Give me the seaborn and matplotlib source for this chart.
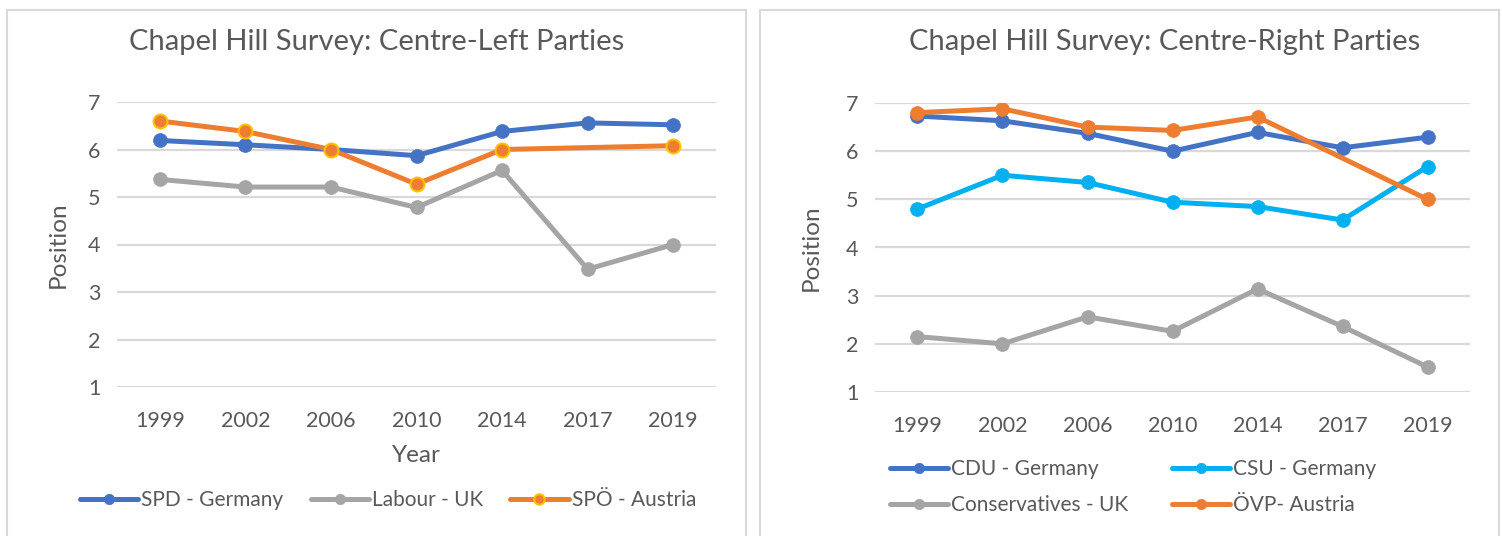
import numpy as np
import pandas as pd
import matplotlib
matplotlib.use("Agg")
import matplotlib.pyplot as plt
from matplotlib.patches import Rectangle
import seaborn as sns

years = ["1999", "2002", "2006", "2010", "2014", "2017", "2019"]

# centre-left
spd_germany = [6.19, 6.10, 6.00, 5.87, 6.38, 6.56, 6.52]
labour_uk = [5.37, 5.21, 5.21, 4.78, 5.56, 3.48, 4.00]
spo_austria = [6.60, 6.38, 6.00, 5.27, 6.00, np.nan, 6.08]

# centre-right
cdu_germany = [6.73, 6.63, 6.37, 6.00, 6.39, 6.07, 6.29]
csu_germany = [4.80, 5.50, 5.35, 4.94, 4.85, 4.57, 5.68]
conservatives_uk = [2.15, 2.00, 2.56, 2.26, 3.14, 2.36, 1.52]
ovp_austria = [6.80, 6.88, 6.50, 6.43, 6.71, np.nan, 5.00]

BLUE = "#4472C4"
GRAY = "#A5A5A5"
ORANGE = "#ED7D31"
LIGHTBLUE = "#00B0F0"
GOLD = "#FFC000"
TEXT = "#595959"
GRID = "#D9D9D9"

sns.set_theme(style="white")
plt.rcParams["font.family"] = ["Lato", "DejaVu Sans"]

W, H = 1502, 536
fig = plt.figure(figsize=(W / 100, H / 100), dpi=100)


def fx(px):
    return px / W


def fy(py):
    return 1 - py / H


# panel frames
for x0, x1 in [(7, 746), (760, 1499)]:
    fig.patches.append(Rectangle((fx(x0), fy(545)), fx(x1 - x0), fy(10) - fy(545),
                                 transform=fig.transFigure, fill=False,
                                 edgecolor=GRID, linewidth=1.5))


def draw_panel(ax, series, xlabel, ylab_x):
    xi = np.arange(len(years))
    for name, vals, color, edge in series:
        df = pd.DataFrame({"x": xi, "y": vals}).dropna()
        sns.lineplot(data=df, x="x", y="y", ax=ax, color=color, linewidth=3.6,
                     marker="o", markersize=10, markeredgecolor=edge,
                     markeredgewidth=1.5 if edge != color else 0.5, label=name)
    ax.set_xlim(-0.5, len(years) - 0.5)
    ax.set_ylim(1, 7)
    ax.set_yticks(range(1, 8))
    ax.set_xticks(xi)
    ax.set_xticklabels(years)
    ax.grid(axis="y", color=GRID, linewidth=1.6)
    ax.set_axisbelow(True)
    for s in ax.spines.values():
        s.set_visible(False)
    ax.tick_params(axis="both", length=0, labelsize=15.5, labelcolor=TEXT)
    ax.tick_params(axis="x", pad=17)
    ax.tick_params(axis="y", pad=12)
    ax.set_ylabel("Position", fontsize=17.5, color=TEXT)
    ax.yaxis.set_label_coords(ylab_x, 0.5)
    ax.set_xlabel(xlabel, fontsize=17.5, color=TEXT)
    ax.xaxis.set_label_coords(0.5, -0.205)
    ax.get_legend().remove()


ax1 = fig.add_axes([fx(117), fy(387), fx(716 - 117), fy(102) - fy(387)])
draw_panel(ax1, [("SPD - Germany", spd_germany, BLUE, BLUE),
                 ("Labour - UK", labour_uk, GRAY, GRAY),
                 ("SPÖ - Austria", spo_austria, ORANGE, GOLD)],
           "Year", -0.08)

ax2 = fig.add_axes([fx(875), fy(392), fx(1470 - 875), fy(103) - fy(392)])
draw_panel(ax2, [("CDU - Germany", cdu_germany, BLUE, BLUE),
                 ("CSU - Germany", csu_germany, LIGHTBLUE, LIGHTBLUE),
                 ("Conservatives - UK", conservatives_uk, GRAY, GRAY),
                 ("ÖVP- Austria", ovp_austria, ORANGE, ORANGE)],
           "", -0.09)

fig.text(fx(377), fy(42), "Chapel Hill Survey: Centre-Left Parties",
         fontsize=21, color=TEXT, ha="center", va="center")
fig.text(fx(1165), fy(42), "Chapel Hill Survey: Centre-Right Parties",
         fontsize=21, color=TEXT, ha="center", va="center")

h1, l1 = ax1.get_legend_handles_labels()
fig.legend(h1, l1, loc="center", bbox_to_anchor=(fx(388), fy(500)), ncol=3,
           frameon=False, fontsize=15, labelcolor=TEXT, handlelength=2.8,
           handletextpad=0.15, columnspacing=1.3, markerscale=0.75)

h2, l2 = ax2.get_legend_handles_labels()
order = [0, 2, 1, 3]
fig.legend([h2[i] for i in order], [l2[i] for i in order], loc="center",
           bbox_to_anchor=(fx(1133), fy(487)), ncol=2, frameon=False,
           fontsize=15, labelcolor=TEXT, handlelength=2.8, handletextpad=0.15,
           columnspacing=2.1, labelspacing=0.78, markerscale=0.75)

fig.savefig("out.png", dpi=100)
